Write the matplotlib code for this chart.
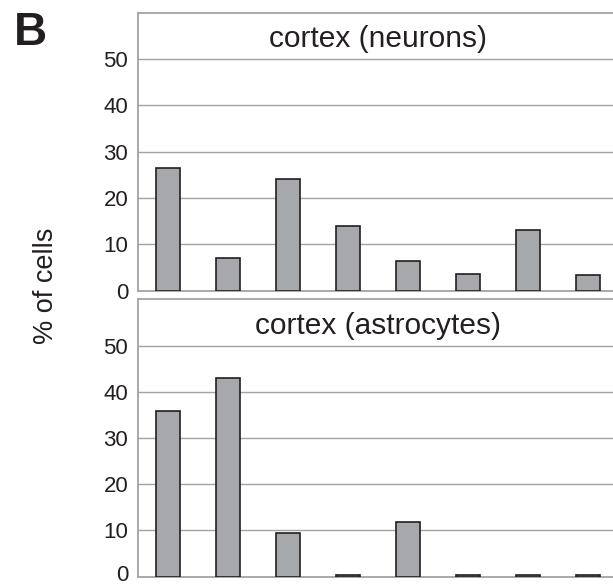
import matplotlib
matplotlib.use("Agg")
import matplotlib.pyplot as plt
import matplotlib.transforms as mtransforms
import numpy as np

plt.rcParams['font.family'] = ['Liberation Sans', 'DejaVu Sans']

categories = [1, 2, 3, 4, 5, 6, 7, 8]
neurons = [26.5, 7.1, 24.0, 14.0, 6.5, 3.6, 13.0, 3.4]
astrocytes = [35.9, 42.9, 9.5, 0.4, 11.8, 0.4, 0.4, 0.4]
titles = ["cortex (neurons)", "cortex (astrocytes)"]
yticks = [0, 10, 20, 30, 40, 50]

W, H = 613, 585
fig = plt.figure(figsize=(W / 100, H / 100), dpi=100)

frame_col = '#a3a3a3'
bar_col = '#a7a8ab'
edge_col = '#231f20'

# axes rectangles in pixel coords (left, top, right, bottom)
rects = [(138, 12.5, 618, 290.7), (138, 299.3, 618, 576.5)]

axes = []
for rect, vals, title in zip(rects, [neurons, astrocytes], titles):
    l, t, r, b = rect
    ax = fig.add_axes([l / W, 1 - b / H, (r - l) / W, (b - t) / H])
    ax.set_xlim(0.5, 8.5)
    ax.set_ylim(0, 60)
    for y in yticks[1:]:
        ax.axhline(y, color=frame_col, lw=1.0, zorder=1)
    ax.bar(categories, vals, width=0.4, color=bar_col, edgecolor=edge_col,
           linewidth=1.2, zorder=3)
    for s in ax.spines.values():
        s.set_color(frame_col)
        s.set_linewidth(1.3)
    ax.set_xticks([])
    ax.set_yticks(yticks)
    ax.tick_params(axis='y', length=0, pad=7, labelsize=16, labelcolor='#231f20')
    ax.text(0.5, 54.2, title, ha='center', va='center', fontsize=21.5,
            color='#231f20', transform=ax.get_yaxis_transform())
    axes.append(ax)

# nudge the lowest tick label up slightly so it stays inside the canvas
lab0 = axes[1].get_yticklabels()[0]
lab0.set_transform(lab0.get_transform() +
                   mtransforms.ScaledTranslation(0, 2.5 / 72, fig.dpi_scale_trans))

fig.text(46 / W, 1 - 286 / H, "% of cells", rotation=90, ha='center', va='center',
         fontsize=19.5, color='#231f20')
fig.text(14 / W, 1 - 11 / H, "B", ha='left', va='top', fontsize=33,
         fontweight='bold', color='#231f20')

fig.savefig("out.png", dpi=100)
